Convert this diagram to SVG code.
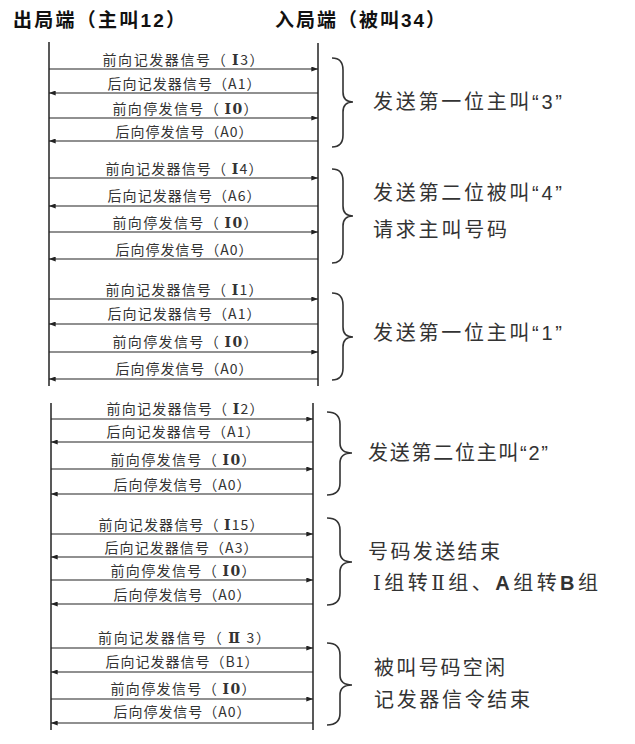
<svg xmlns="http://www.w3.org/2000/svg" width="635" height="744" viewBox="0 0 635 744">
<style>
.hd{font-family:"Noto Sans CJK SC","Liberation Sans",sans-serif;font-size:19px;font-weight:bold;fill:#111}
.lb{font-family:"Noto Sans CJK SC",sans-serif;font-size:14px;fill:#333;text-anchor:middle}
.b{font-family:"DejaVu Serif","Noto Sans CJK SC",serif;font-weight:bold}
.sd{font-family:"Noto Sans CJK SC",sans-serif;font-size:20px;fill:#333}
.la{font-family:"Liberation Sans",sans-serif}
.lab{font-family:"Liberation Sans",sans-serif;font-weight:bold}
.rs{font-family:"DejaVu Serif","Noto Sans CJK SC",serif}
.life{stroke:#222;stroke-width:1.5;fill:none}
.msg{stroke:#222;stroke-width:1.2;fill:none;marker-end:url(#ah)}
.brace{stroke:#333;stroke-width:1.6;fill:none}
</style>
<defs>
<marker id="ah" viewBox="0 0 8 6" refX="8" refY="3" markerWidth="8" markerHeight="5" orient="auto" markerUnits="userSpaceOnUse"><path d="M0,0 L8,3 L0,6 z" fill="#222"/></marker>
</defs>
<g id="header">
<text class="hd" x="13" y="27" textLength="172">出局端（主叫<tspan class="la">12</tspan>）</text>
<text class="hd" x="275" y="27" textLength="170">入局端（被叫<tspan class="la">34</tspan>）</text>
</g>
<g id="lifelines">
<line class="life" x1="49" y1="42" x2="49" y2="386"/>
<line class="life" x1="318" y1="43" x2="318" y2="386"/>
<line class="life" x1="51" y1="403" x2="51" y2="730"/>
<line class="life" x1="313" y1="403" x2="313" y2="730"/>
</g>
<g id="connectors">
<line class="msg" x1="49" y1="69" x2="318" y2="69"/>
<line class="msg" x1="318" y1="93" x2="49" y2="93"/>
<line class="msg" x1="49" y1="118" x2="318" y2="118"/>
<line class="msg" x1="318" y1="141" x2="49" y2="141"/>
<line class="msg" x1="49" y1="178" x2="318" y2="178"/>
<line class="msg" x1="318" y1="206" x2="49" y2="206"/>
<line class="msg" x1="49" y1="232" x2="318" y2="232"/>
<line class="msg" x1="318" y1="259" x2="49" y2="259"/>
<line class="msg" x1="49" y1="299" x2="318" y2="299"/>
<line class="msg" x1="318" y1="324" x2="49" y2="324"/>
<line class="msg" x1="49" y1="352" x2="318" y2="352"/>
<line class="msg" x1="318" y1="379" x2="49" y2="379"/>
<line class="msg" x1="51" y1="419" x2="313" y2="419"/>
<line class="msg" x1="313" y1="442" x2="51" y2="442"/>
<line class="msg" x1="51" y1="469" x2="313" y2="469"/>
<line class="msg" x1="313" y1="494" x2="51" y2="494"/>
<line class="msg" x1="51" y1="534" x2="313" y2="534"/>
<line class="msg" x1="313" y1="557" x2="51" y2="557"/>
<line class="msg" x1="51" y1="580" x2="313" y2="580"/>
<line class="msg" x1="313" y1="604" x2="51" y2="604"/>
<line class="msg" x1="51" y1="648" x2="313" y2="648"/>
<line class="msg" x1="313" y1="672" x2="51" y2="672"/>
<line class="msg" x1="51" y1="699" x2="313" y2="699"/>
<line class="msg" x1="313" y1="723" x2="51" y2="723"/>
</g>
<g id="labels">
<text class="lb" x="183" y="65" textLength="161">前向记发器信号（ <tspan class="b">Ⅰ</tspan>3）</text>
<text class="lb" x="184" y="89" textLength="153">后向记发器信号（A1）</text>
<text class="lb" x="185" y="114" textLength="145">前向停发信号（ <tspan class="b">Ⅰ0</tspan>）</text>
<text class="lb" x="184" y="137" textLength="137">后向停发信号（A0）</text>

<text class="lb" x="184" y="174" textLength="157">前向记发器信号（ <tspan class="b">Ⅰ</tspan>4）</text>
<text class="lb" x="184" y="201" textLength="153">后向记发器信号（A6）</text>
<text class="lb" x="185" y="228" textLength="145">前向停发信号（ <tspan class="b">Ⅰ0</tspan>）</text>
<text class="lb" x="184" y="255" textLength="137">后向停发信号（A0）</text>

<text class="lb" x="184" y="295" textLength="157">前向记发器信号（ <tspan class="b">Ⅰ</tspan>1）</text>
<text class="lb" x="184" y="319" textLength="153">后向记发器信号（A1）</text>
<text class="lb" x="185" y="347" textLength="145">前向停发信号（ <tspan class="b">Ⅰ0</tspan>）</text>
<text class="lb" x="184" y="374" textLength="137">后向停发信号（A0）</text>

<text class="lb" x="185" y="414" textLength="157">前向记发器信号（ <tspan class="b">Ⅰ</tspan>2）</text>
<text class="lb" x="183" y="437" textLength="153">后向记发器信号（A1）</text>
<text class="lb" x="183" y="465" textLength="145">前向停发信号（ <tspan class="b">Ⅰ0</tspan>）</text>
<text class="lb" x="182" y="490" textLength="137">后向停发信号（A0）</text>

<text class="lb" x="181" y="530" textLength="165">前向记发器信号（ <tspan class="b">Ⅰ</tspan>15）</text>
<text class="lb" x="181" y="553" textLength="153">后向记发器信号（A3）</text>
<text class="lb" x="183" y="576" textLength="145">前向停发信号（ <tspan class="b">Ⅰ0</tspan>）</text>
<text class="lb" x="182" y="600" textLength="137">后向停发信号（A0）</text>

<text class="lb" x="184" y="643" textLength="172">前向记发器信号（ <tspan class="b">Ⅱ</tspan> 3）</text>
<text class="lb" x="182" y="667" textLength="153">后向记发器信号（B1）</text>
<text class="lb" x="183" y="694" textLength="145">前向停发信号（ <tspan class="b">Ⅰ0</tspan>）</text>
<text class="lb" x="182" y="717" textLength="137">后向停发信号（A0）</text>
</g>
<g id="braces">
<path class="brace" d="M332,58 Q343,58 343,70 L343,92 Q343,102 353,102 Q343,102 343,112 L343,135 Q343,147 332,147"/>
<path class="brace" d="M332,169 Q343,169 343,181 L343,206 Q343,216 353,216 Q343,216 343,226 L343,251 Q343,263 332,263"/>
<path class="brace" d="M332,293 Q343,293 343,305 L343,327 Q343,337 353,337 Q343,337 343,347 L343,368 Q343,380 332,380"/>
<path class="brace" d="M327,412 Q340,412 340,424 L340,443 Q340,453 352,453 Q340,453 340,463 L340,483 Q340,495 327,495"/>
<path class="brace" d="M327,518 Q340,518 340,530 L340,552 Q340,562 352,562 Q340,562 340,572 L340,593 Q340,605 327,605"/>
<path class="brace" d="M327,643 Q340,643 340,655 L340,675 Q340,685 352,685 Q340,685 340,695 L340,713 Q340,725 327,725"/>
</g>
<g id="notes">
<text class="sd" x="373" y="109" textLength="189">发送第一位主叫<tspan class="la">“3”</tspan></text>
<text class="sd" x="373" y="200" textLength="189">发送第二位被叫<tspan class="la">“4”</tspan></text>
<text class="sd" x="373" y="237" textLength="134">请求主叫号码</text>
<text class="sd" x="373" y="340" textLength="189">发送第一位主叫<tspan class="la">“1”</tspan></text>
<text class="sd" x="368" y="460" textLength="180">发送第二位主叫<tspan class="la">“2”</tspan></text>
<text class="sd" x="368" y="559" textLength="132">号码发送结束</text>
<text class="sd" x="373" y="590" textLength="225"><tspan class="rs">Ⅰ</tspan>组转<tspan class="rs">Ⅱ</tspan>组、<tspan class="lab">A</tspan>组转<tspan class="lab">B</tspan>组</text>
<text class="sd" x="374" y="675" textLength="131">被叫号码空闲</text>
<text class="sd" x="374" y="707" textLength="156">记发器信令结束</text>
</g>
</svg>
